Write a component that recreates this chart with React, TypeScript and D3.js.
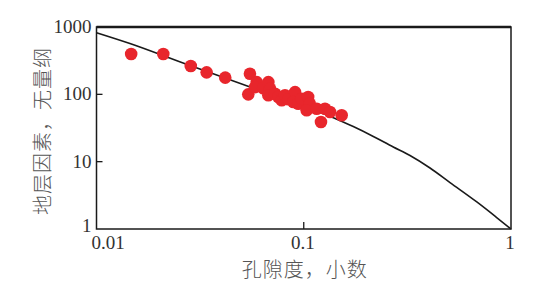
import React, { useEffect, useRef } from 'react';
import * as d3 from 'd3';

// porosity (fraction) vs formation factor
const porosity = [0.0147, 0.021, 0.0285, 0.034, 0.0418, 0.055, 0.054, 0.0593, 0.0582, 0.0638, 0.0675, 0.0688,
  0.0675, 0.0727, 0.0754, 0.0783, 0.0812, 0.0842, 0.0908, 0.0891, 0.0941, 0.0977, 0.105, 0.107, 0.1033,
  0.1155, 0.1266, 0.1339, 0.1211, 0.1524];
const formationFactor = [397, 397, 263, 212, 177, 202, 100, 152, 128, 123, 152, 121,
  96.7, 102, 91.2, 81.5, 96.7, 84.4, 108, 76.9, 72.6, 86.1, 91.2, 72.6, 57.9,
  61.2, 61.2, 54.7, 38.8, 48.8];

// trend curve points
const curvePhi = [0.01, 0.0145, 0.0272, 0.0551, 0.139, 0.1734, 0.2166, 0.2704, 0.3256, 0.4067, 0.5078, 0.684, 0.853, 1];
const curveF = [823, 569, 279, 129, 45.0, 33.2, 23.7, 16.5, 12.35, 8.05, 4.89, 2.52, 1.48, 1];

const xTicks = [0.01, 0.1, 1];
const yTicks = [1, 10, 100, 1000];

const App = () => {
  const svgRef = useRef(null);
  const width = 551;
  const height = 288;
  const margin = { top: 27, right: 40, bottom: 59, left: 96.5 };

  useEffect(() => {
    const svg = d3.select(svgRef.current);
    svg.selectAll('*').remove();

    const x = d3.scaleLog().domain([0.01, 1]).range([margin.left, width - margin.right]);
    const y = d3.scaleLog().domain([1, 1000]).range([height - margin.bottom, margin.top]);

    const serif = '"Liberation Serif", "DejaVu Serif", serif';
    const cjk = '"Noto Sans CJK SC", sans-serif';

    // frame
    svg.append('rect')
      .attr('x', x(0.01)).attr('y', y(1000))
      .attr('width', x(1) - x(0.01)).attr('height', y(1) - y(1000))
      .attr('fill', 'none').attr('stroke', '#1a1a1a').attr('stroke-width', 1.5);
    svg.append('line')
      .attr('x1', x(0.01)).attr('x2', x(1)).attr('y1', y(1000)).attr('y2', y(1000))
      .attr('stroke', '#1a1a1a').attr('stroke-width', 2.5);

    // inner ticks
    svg.append('line')
      .attr('x1', x(0.1)).attr('x2', x(0.1)).attr('y1', y(1)).attr('y2', y(1) - 7)
      .attr('stroke', '#1a1a1a').attr('stroke-width', 1.3);
    [10, 100].forEach(v => {
      svg.append('line')
        .attr('x1', x(0.01)).attr('x2', x(0.01) + 6).attr('y1', y(v)).attr('y2', y(v))
        .attr('stroke', '#1a1a1a').attr('stroke-width', 1.3);
    });

    // tick labels
    svg.append('g').selectAll('text').data(xTicks).join('text')
      .attr('x', d => d === 0.01 ? x(d) - 5 : x(d) - 1)
      .attr('y', y(1) + 20)
      .attr('text-anchor', d => d === 0.01 ? 'start' : 'middle')
      .attr('font-family', serif).attr('font-size', 19).attr('fill', '#333')
      .text(d => String(d));

    svg.append('g').selectAll('text').data(yTicks).join('text')
      .attr('x', x(0.01) - 5)
      .attr('y', d => y(d) + (d === 1 ? 3 : 6))
      .attr('text-anchor', 'end')
      .attr('font-family', serif).attr('font-size', 19).attr('fill', '#333')
      .text(d => String(d));

    // trend curve
    const line = d3.line<number>()
      .x((d, i) => x(curvePhi[i]))
      .y(d => y(d))
      .curve(d3.curveMonotoneX);
    svg.append('path')
      .attr('d', line(curveF))
      .attr('fill', 'none').attr('stroke', '#1a1a1a').attr('stroke-width', 1.6);

    // data points
    svg.append('g').selectAll('circle').data(porosity).join('circle')
      .attr('cx', d => x(d))
      .attr('cy', (d, i) => y(formationFactor[i]))
      .attr('r', 6.3)
      .attr('fill', '#e8262c');

    // axis titles
    svg.append('text')
      .attr('x', (x(0.01) + x(1)) / 2 + 1)
      .attr('y', 277)
      .attr('text-anchor', 'middle')
      .attr('font-family', cjk).attr('font-weight', 300).attr('font-size', 20)
      .attr('letter-spacing', 1).attr('fill', '#555')
      .text('孔隙度，小数');

    svg.append('text')
      .attr('transform', `translate(50, ${131}) rotate(-90)`)
      .attr('text-anchor', 'middle')
      .attr('font-family', cjk).attr('font-weight', 300).attr('font-size', 20)
      .attr('letter-spacing', 1).attr('fill', '#555')
      .text('地层因素，无量纲');
  }, []);

  return (
    <svg ref={svgRef} width={width} height={height}
      style={{ position: 'absolute', left: 0, top: 0, background: '#fff' }} />
  );
};

export default App;
